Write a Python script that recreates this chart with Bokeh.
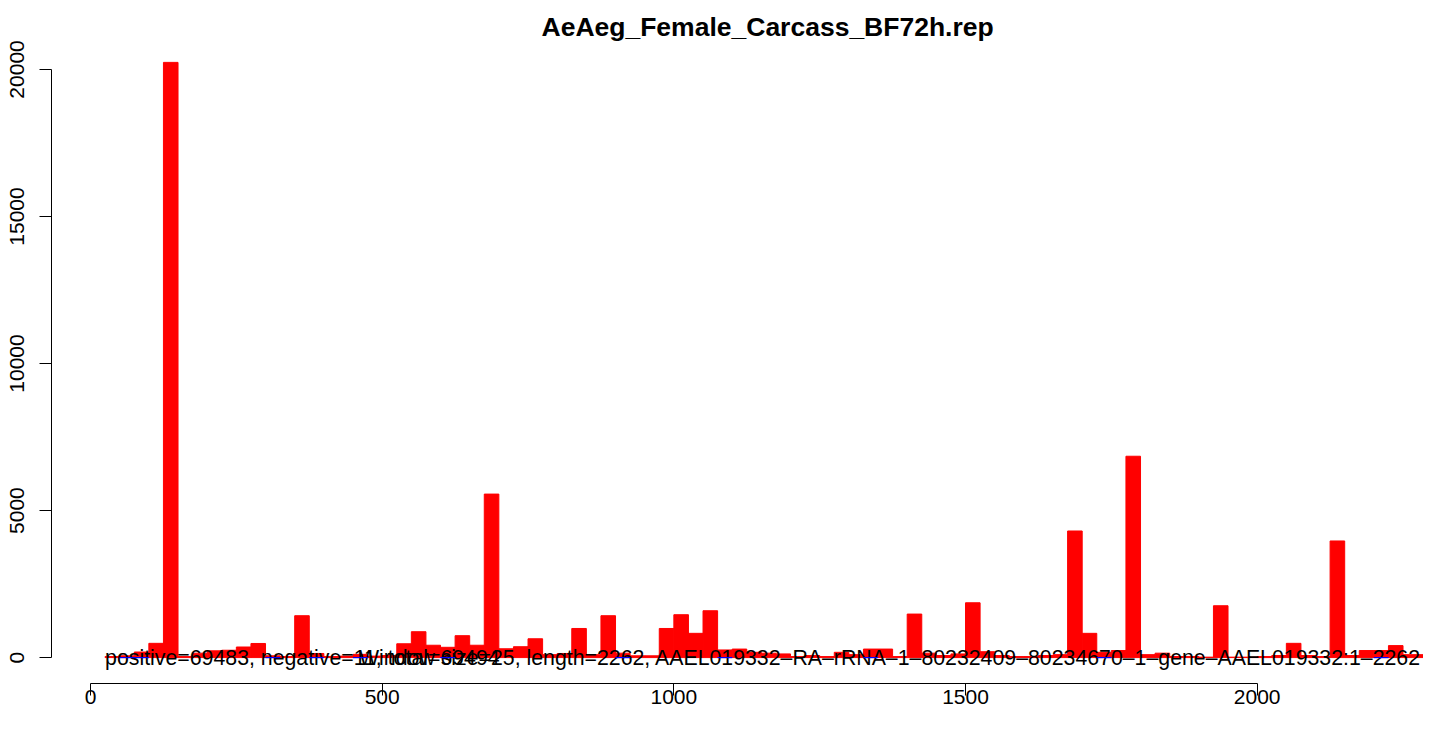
import numpy as np
from bokeh.plotting import figure
from bokeh.models import FixedTicker, Range1d, ColumnDataSource
from bokeh.core.properties import value
from bokeh.embed import file_html
from bokeh.resources import INLINE

TITLE = "AeAeg_Female_Carcass_BF72h.rep"
WINDOW = 25
# counts per window (window k covers [25k, 25k+25)), k = 1..91
positive_counts = [
    35, 60, 190, 485, 20240, 35, 150, 230, 250, 360,
    480, 60, 35, 1424, 140, 35, 50, 110, 50, 70,
    470, 880, 420, 350, 745, 420, 5560, 300, 370, 640,
    100, 140, 990, 100, 1424, 150, 60, 60, 990, 1458,
    825, 1593, 260, 290, 180, 150, 125, 35, 70, 35,
    180, 100, 290, 290, 35, 1480, 150, 70, 125, 1864,
    200, 70, 35, 35, 70, 100, 4305, 825, 180, 240,
    6847, 100, 150, 35, 35, 15, 1763, 15, 15, 35,
    70, 485, 70, 35, 3966, 70, 240, 240, 407, 100, 100,
]
negative_windows = [2, 3, 12, 15, 18, 24, 36, 43, 53, 69, 88]
negative_counts = [1, 1, 1, 1, 1, 1, 1, 1, 1, 1, 1]

DASH = "\u2013"
INFO_LEFT = "positive=69483, negative=11, total=69494"
INFO_RIGHT = ("Window size=25, length=2262, "
              + DASH.join(["AAEL019332", "RA", "rRNA", "1", "80232409", "80234670",
                           "1", "gene", "AAEL019332:1"]) + DASH + "2262")

X_TICKS = [0, 500, 1000, 1500, 2000]
Y_TICKS = [0, 5000, 10000, 15000, 20000]

FONT = "Liberation Sans"

win_idx = np.arange(1, len(positive_counts) + 1)
pos_src = ColumnDataSource(dict(
    left=win_idx * WINDOW, right=win_idx * WINDOW + WINDOW,
    top=positive_counts, bottom=[0] * len(positive_counts)))
neg_idx = np.array(negative_windows)
neg_src = ColumnDataSource(dict(
    left=neg_idx * WINDOW, right=neg_idx * WINDOW + WINDOW,
    top=[0] * len(negative_counts), bottom=[-v for v in negative_counts]))

p = figure(width=1423, height=713, output_backend="svg", toolbar_location=None,
           x_range=Range1d(-66.9, 2285.1), y_range=Range1d(-881, 20644),
           min_border_left=51, min_border_right=0, min_border_top=48,
           min_border_bottom=30, title=TITLE)
p.title.align = "left"
p.title.offset = 490
p.title.text_font = FONT
p.title.text_font_size = "26.5px"
p.title.text_font_style = "bold"
p.title.text_color = "black"
p.title.standoff = 18

p.grid.visible = False
p.outline_line_color = None
p.background_fill_color = "white"
p.border_fill_color = "white"

for ax, ticks, bounds in ((p.xaxis, X_TICKS, (0, 2000)), (p.yaxis, Y_TICKS, (0, 20000))):
    ax.ticker = FixedTicker(ticks=ticks)
    ax.bounds = bounds
    ax.axis_line_color = "black"
    ax.axis_line_width = 1
    ax.major_tick_line_color = "black"
    ax.major_tick_out = 12
    ax.major_tick_in = 0
    ax.minor_tick_out = 0
    ax.minor_tick_in = 0
    ax.major_label_text_font = FONT
    ax.major_label_text_font_size = "21px"
    ax.major_label_text_color = "black"
p.xaxis.major_label_standoff = -6
p.yaxis.major_label_standoff = 15
p.yaxis.major_label_orientation = "vertical"

p.quad(left="left", right="right", top="top", bottom="bottom", source=pos_src,
       fill_color="red", line_color="red", line_width=1)

p.text(x=[pos_src.data["left"][0]], y=[0], text=[INFO_LEFT],
       text_font=value(FONT), text_font_size="21.3px", text_align="left",
       text_baseline="alphabetic", text_color="black")
p.text(x=[pos_src.data["right"][-1]], y=[0], text=[INFO_RIGHT],
       text_font=value(FONT), text_font_size="21.3px", text_align="right",
       text_baseline="alphabetic", text_color="black", x_offset=-11)

p.quad(left="left", right="right", top="top", bottom="bottom", source=neg_src,
       fill_color="blue", line_color="blue", line_width=1)

with open("out.html", "w", encoding="utf-8") as f:
    f.write(file_html(p, INLINE))
